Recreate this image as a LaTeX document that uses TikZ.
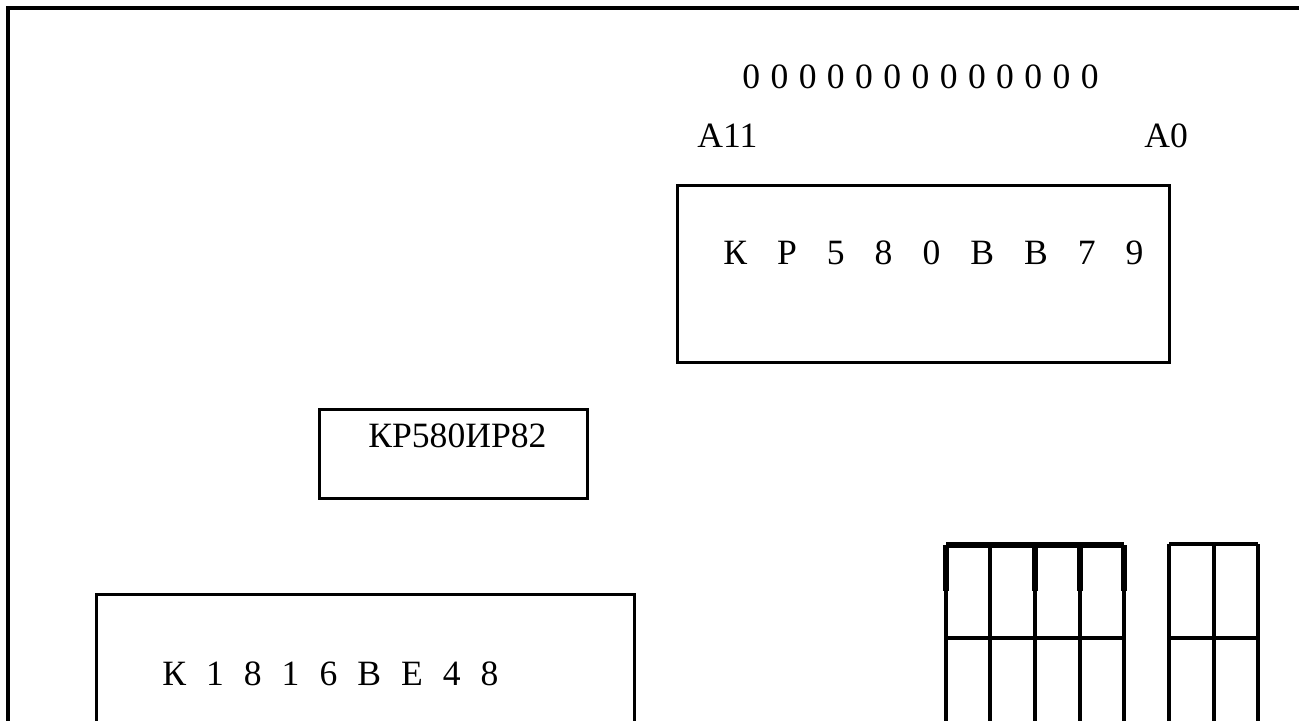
\documentclass[tikz,border=0pt]{standalone}
\usepackage{fontspec}
\setmainfont{Liberation Serif}
\newcommand\gA{\hspace{15pt}}
\newcommand\gB{\hspace{10pt}}
\newcommand\gZ{\hspace{5.2pt}}
\begin{document}
\begin{tikzpicture}[x=0.5pt,y=-0.5pt,
  frameline/.style={line width=1.6pt},
  chip/.style={draw,line width=1.5pt,rectangle,inner sep=0pt},
  lbl/.style={inner sep=0pt,anchor=base west,font=\fontsize{17.8}{21}\selectfont},
  thin/.style={line width=1.6pt},
  thick/.style={line width=3pt}]
\useasboundingbox (0,0) rectangle (1299,721);
% outer frame (top and left only)
\coordinate (fTL) at (8,8);
\coordinate (fTR) at (1299,8);
\coordinate (fBL) at (8,721);
\draw[frameline] (fTR) -- (fTL) -- (fBL);
% address labels
\node[lbl] (zeros) at (742,89) {0\gZ0\gZ0\gZ0\gZ0\gZ0\gZ0\gZ0\gZ0\gZ0\gZ0\gZ0\gZ0};
\node[lbl] (a11) at (697,148) {A11};
\node[lbl] (a0) at (1144,148) {A0};
% chips (sizes in pt = half of pixel size)
\node[chip,minimum width=246pt,minimum height=88pt] (vv79) at (923,274) {};
\node[lbl] (vv79t) at (723,265) {К\gA Р\gA 5\gA 8\gA 0\gA В\gA В\gA 7\gA 9};
\node[chip,minimum width=134pt,minimum height=44.5pt] (ir82) at (453,453.5) {};
\node[lbl] (ir82t) at (368,447) {КР580ИР82};
\node[chip,minimum width=269pt,minimum height=80pt] (ve48) at (365,674) {};
\node[lbl] (ve48t) at (162,685) {К\gB 1\gB 8\gB 1\gB 6\gB В\gB Е\gB 4\gB 8};
% switch grid, left group
\foreach \xx/\nm in {946/a,990/b,1035/c,1080/d,1124/e}{
  \coordinate (g\nm t) at (\xx,545);
  \coordinate (g\nm m) at (\xx,591);
  \coordinate (g\nm b) at (\xx,721);
  \draw[thin] (g\nm t) -- (g\nm b);
}
\draw[thick] (gat) -- (get);
\foreach \nm in {a,c,d,e}{ \draw[thick] (g\nm t) -- (g\nm m); }
\coordinate (hL1) at (946,638);
\coordinate (hL2) at (1124,638);
\draw[thin] (hL1) -- (hL2);
% switch grid, right group
\foreach \xx/\nm in {1169/f,1214/g,1258/h}{
  \coordinate (g\nm t) at (\xx,544);
  \coordinate (g\nm b) at (\xx,721);
  \draw[thin] (g\nm t) -- (g\nm b);
}
\draw[thin] (gft) -- (ght);
\coordinate (hR1) at (1169,638);
\coordinate (hR2) at (1258,638);
\draw[thin] (hR1) -- (hR2);
\end{tikzpicture}
\end{document}
